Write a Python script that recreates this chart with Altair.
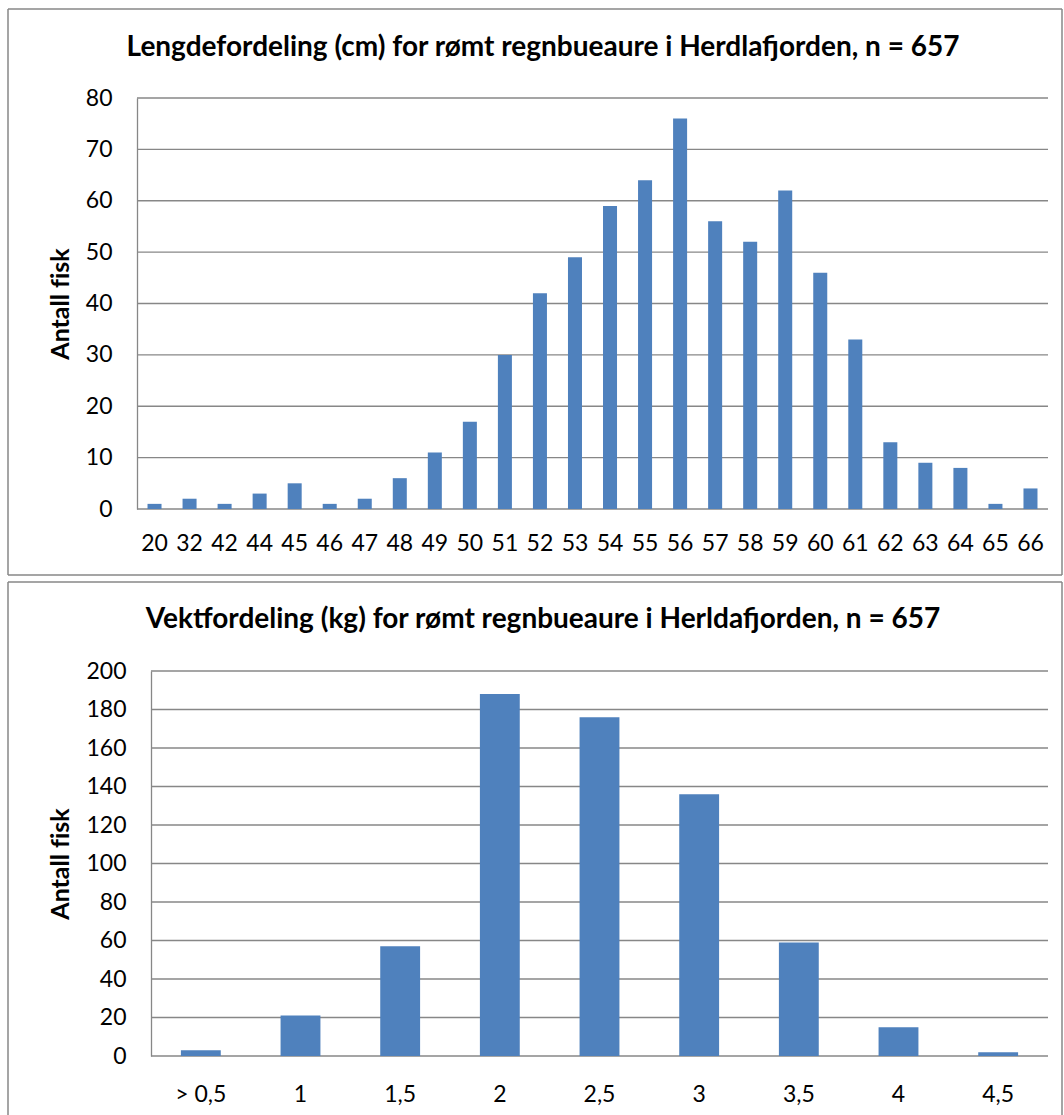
import altair as alt
import pandas as pd

# Length distribution (cm) of escaped rainbow trout
length_cm = ["20", "32", "42", "44", "45", "46", "47", "48", "49", "50", "51", "52", "53",
             "54", "55", "56", "57", "58", "59", "60", "61", "62", "63", "64", "65", "66"]
length_count = [1, 2, 1, 3, 5, 1, 2, 6, 11, 17, 30, 42, 49,
                59, 64, 76, 56, 52, 62, 46, 33, 13, 9, 8, 1, 4]

# Weight distribution (kg)
weight_kg = ["> 0,5", "1", "1,5", "2", "2,5", "3", "3,5", "4", "4,5"]
weight_count = [3, 21, 57, 188, 176, 136, 59, 15, 2]

title_len = "Lengdefordeling (cm) for rømt regnbueaure i Herdlafjorden, n = 657"
title_wt = "Vektfordeling (kg) for rømt regnbueaure i Herldafjorden, n = 657"
# zero-width non-joiner keeps "f" and "i" as separate glyphs
y_title = "Antall f\u200cisk"

BLUE = "#4F81BD"
GREY = "#878787"
FONT = "Lato"
ONE = pd.DataFrame({"k": [0]})

# Both panels share one origin (x = 137); the second panel's plot area is
# inset by `inset` pixels so its value axis sits further right.
ORIGIN_X = 137
PANEL_W = 911


def panel(cats, counts, ymax, ystep, title, h, py, inset, title_cx, title_cy,
          xlab_pad, frame_top, frame_bottom, closed):
    df = pd.DataFrame({"cat": cats, "n": counts})
    tick_vals = list(range(0, ymax + 1, ystep))
    grid_df = pd.DataFrame({"v": tick_vals})
    yscale = alt.Scale(domain=[0, ymax], nice=False)
    y_axis = alt.Axis(values=tick_vals, ticks=False, tickSize=0,
                      offset=-inset, grid=False, labelOverlap=False,
                      labelPadding=25, labelFont=FONT, labelFontSize=23,
                      labelColor="black", labelBaseline="middle",
                      domainColor=GREY, domainWidth=1.3,
                      titleFont=FONT, titleFontSize=25, titleFontWeight="bold",
                      titleColor="black", titleX=60 - ORIGIN_X - inset, titleY=h / 2,
                      titleAlign="center", titleBaseline="middle")

    # horizontal gridlines (and the category baseline at 0)
    grid = alt.Chart(grid_df).mark_rule(color=GREY, strokeWidth=1.3).encode(
        y=alt.Y("v:Q", scale=yscale, axis=y_axis, title=y_title),
        x=alt.value(inset), x2=alt.value(PANEL_W))

    bars = alt.Chart(df).mark_bar(color=BLUE).encode(
        x=alt.X("cat:N", sort=cats, title=None,
                scale=alt.Scale(paddingInner=0.6, paddingOuter=0.3, range=[inset, PANEL_W]),
                axis=alt.Axis(labelAngle=0, labelPadding=xlab_pad, labelBaseline="middle",
                              ticks=False, tickSize=0, domain=False, labelOverlap=False,
                              labelFont=FONT, labelFontSize=23, labelColor="black",
                              grid=False)),
        y=alt.Y("n:Q", title=y_title, scale=yscale, axis=y_axis),
    )
    head = alt.Chart(ONE).mark_text(font=FONT, fontSize=28, fontWeight="bold",
                                    color="black", align="center", baseline="middle").encode(
        x=alt.value(title_cx - ORIGIN_X), y=alt.value(title_cy - py), text=alt.value(title))

    left, right = 8 - ORIGIN_X, 1062 - ORIGIN_X
    top, bottom = frame_top - py, frame_bottom - py
    rule = dict(color=GREY, strokeWidth=1.5)
    frame = [
        alt.Chart(ONE).mark_rule(**rule).encode(x=alt.value(left), y=alt.value(top), y2=alt.value(bottom)),
        alt.Chart(ONE).mark_rule(**rule).encode(x=alt.value(right), y=alt.value(top), y2=alt.value(bottom)),
        alt.Chart(ONE).mark_rule(**rule).encode(y=alt.value(top), x=alt.value(left), x2=alt.value(right)),
    ]
    if closed:
        frame.append(alt.Chart(ONE).mark_rule(**rule).encode(
            y=alt.value(bottom), x=alt.value(left), x2=alt.value(right)))
    return alt.layer(*frame, grid, bars, head).properties(width=PANEL_W, height=h)


top_chart = panel(length_cm, length_count, 80, 10, title_len,
                  h=411, py=98, inset=0, title_cx=543, title_cy=48,
                  xlab_pad=34, frame_top=9, frame_bottom=575, closed=True)
bottom_chart = panel(weight_kg, weight_count, 200, 20, title_wt,
                     h=385, py=670, inset=14, title_cx=543, title_cy=619,
                     xlab_pad=38, frame_top=581, frame_bottom=1114, closed=False)

chart = alt.vconcat(top_chart, bottom_chart, spacing=5).properties(
    padding={"top": 8, "left": 7, "right": 0, "bottom": 0},
    background="white",
).configure_view(strokeWidth=0)

chart.save("out.html", embed_options={"renderer": "svg", "actions": False})
